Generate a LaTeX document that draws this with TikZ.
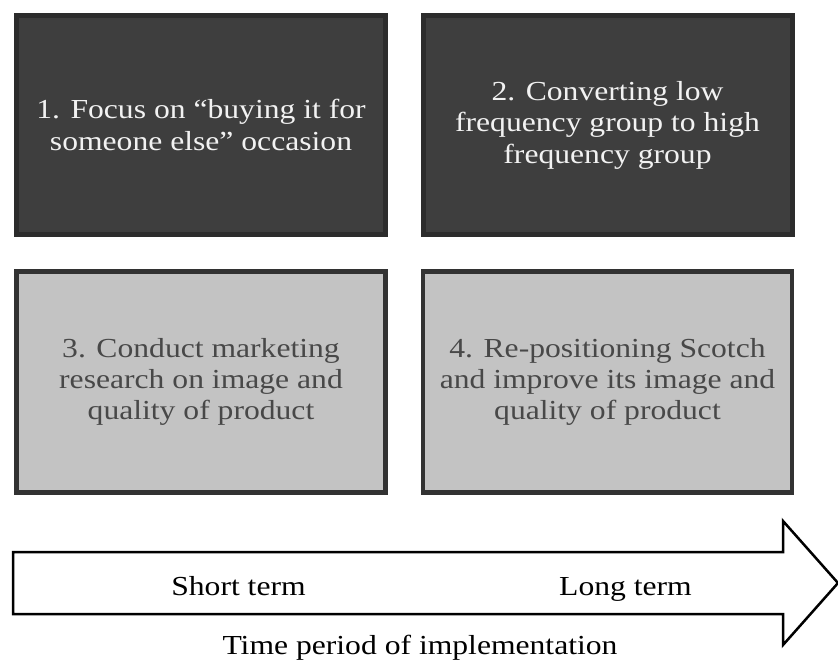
\documentclass[tikz,border=0pt]{standalone}
\usepackage{fontspec}
\setmainfont{Liberation Serif}[FakeStretch=1.15]
\definecolor{boxdark}{HTML}{3E3E3E}
\definecolor{edgedark}{HTML}{2C2C2C}
\definecolor{boxlight}{HTML}{C3C3C3}
\definecolor{edgelight}{HTML}{323232}
\definecolor{textgrey}{HTML}{484848}
\begin{document}
\begin{tikzpicture}[x=1pt,y=-1pt,
        darkbox/.style={draw=edgedark,fill=boxdark,line width=5pt,minimum width=369pt,minimum height=219pt,align=center,text=white!95!black,font=\fontsize{27.5}{31.5}\selectfont},
        lightbox/.style={draw=edgelight,fill=boxlight,line width=4.5pt,minimum width=369pt,minimum height=221pt,align=center,text=textgrey,font=\fontsize{27.5}{31}\selectfont},
        termtext/.style={anchor=base,font=\fontsize{27.5}{31.5}\selectfont}
      ]
      \useasboundingbox[fill=white] (0,0) rectangle (838,661);
      \node[darkbox] (focus) at (201,125) {1. Focus on ``buying it for\\someone else'' occasion};
      \node[darkbox] (convert) at (607.5,125) {2. Converting low\\frequency group to high\\frequency group};
      \node[lightbox] (research) at (201,382) {3. Conduct marketing\\research on image and\\quality of product};
      \node[lightbox] (reposition) at (607.5,382) {4. Re-positioning Scotch\\and improve its image and\\quality of product};
      \draw[line width=2.5pt] (13,552) -- (783,552) -- (783,521) -- (838,583) -- (783,645) -- (783,614) -- (13,614) -- cycle;
      \node[termtext] (short) at (238.5,595) {Short term};
      \node[termtext] (long) at (625.5,595) {Long term};
      \node[termtext] (period) at (420,654) {Time period of implementation};
    \end{tikzpicture}
\end{document}
